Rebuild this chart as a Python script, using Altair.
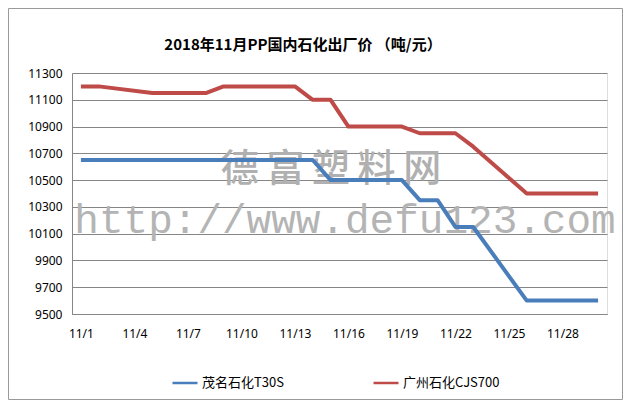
import altair as alt
import pandas as pd

# ---- data ----
all_days = [f"11/{d}" for d in range(1, 31)]
tick_labels = ["11/1", "11/4", "11/7", "11/10", "11/13", "11/16", "11/19", "11/22", "11/25", "11/28"]
trade_days = [1, 2, 5, 6, 7, 8, 9, 12, 13, 14, 15, 16, 19, 20, 21, 22, 23, 26, 27, 28, 29, 30]
maoming = [10650, 10650, 10650, 10650, 10650, 10650, 10650, 10650, 10650, 10650, 10500, 10500,
           10500, 10350, 10350, 10150, 10150, 9600, 9600, 9600, 9600, 9600]
guangzhou = [11200, 11200, 11150, 11150, 11150, 11150, 11200, 11200, 11200, 11100, 11100, 10900,
             10900, 10850, 10850, 10850, 10750, 10400, 10400, 10400, 10400, 10400]
series_names = ["茂名石化T30S", "广州石化CJS700"]
series_colors = ["#4A7EBB", "#BE4B48"]
y_ticks = list(range(9500, 11301, 200))
title_text = "2018年11月PP国内石化出厂价  （吨/元）"
watermark_cn = "\u2009".join("德富塑料网")
watermark_url = "http://www.defu123.com"

rows = []
for name, vals in zip(series_names, [maoming, guangzhou]):
    for d, v in zip(trade_days, vals):
        rows.append({"date": f"11/{d}", "day": d, "price": v, "series": name})
df = pd.DataFrame(rows)

W, H = 535, 241
font = "Noto Sans"
cjk = "Noto Sans CJK SC"

lines = alt.Chart(df).mark_line(strokeWidth=4, strokeJoin="round").encode(
    x=alt.X("date:O", scale=alt.Scale(domain=all_days, type="point", padding=0.5),
            axis=alt.Axis(values=tick_labels, title=None, labelAngle=0, ticks=False,
                          domain=True, domainColor="#868686", labelPadding=14,
                          labelFontSize=12, labelColor="#000000", labelFont=font, grid=False)),
    y=alt.Y("price:Q", scale=alt.Scale(domain=[9500, 11300], nice=False, zero=False),
            axis=alt.Axis(values=y_ticks, format="d", title=None, ticks=False, domain=True,
                          domainColor="#868686", gridColor="#868686", gridWidth=1,
                          labelPadding=10, labelFontSize=12, labelColor="#000000",
                          labelFont=font)),
    color=alt.Color("series:N", scale=alt.Scale(domain=series_names, range=series_colors),
                    legend=alt.Legend(title=None, orient="none", legendX=99, legendY=296,
                                      direction="horizontal", symbolType="stroke",
                                      symbolSize=625, symbolStrokeWidth=2.5,
                                      labelFontSize=13, labelFont=cjk, labelColor="#000000",
                                      columnPadding=84, labelOffset=3)),
    order=alt.Order("day:Q"),
)

wm1 = alt.Chart(pd.DataFrame({"t": [watermark_cn]})).mark_text(
    font=cjk, fontSize=38, fontWeight=500, color="#b0b0b0", align="center",
    baseline="middle"
).encode(text="t:N", x=alt.value(259), y=alt.value(97))

wm2 = alt.Chart(pd.DataFrame({"t": [watermark_url]})).mark_text(
    font="Liberation Mono", fontSize=41, color="#b4b4b4", align="center",
    baseline="alphabetic"
).encode(text="t:N", x=alt.value(273), y=alt.value(160))

title = alt.Chart(pd.DataFrame({"t": [title_text]})).mark_text(
    font=cjk, fontSize=15, fontWeight="bold", color="#000000", align="center",
    baseline="middle"
).encode(text="t:N", x=alt.value(231), y=alt.value(-28))

frame = alt.Chart(pd.DataFrame({"a": [0]})).mark_rect(
    fillOpacity=0, stroke="#9a9a9a", strokeWidth=1
).encode(x=alt.value(-63.5), x2=alt.value(550.5), y=alt.value(-64.5), y2=alt.value(326.5))

chart = alt.layer(frame, wm1, wm2, lines, title).properties(
    width=W, height=H,
    autosize=alt.AutoSizeParams(type="none"),
    padding={"left": 64, "top": 65, "right": 16, "bottom": 86},
).configure_view(stroke=None).configure(background="#ffffff")

chart.save("out.html", embed_options={"renderer": "svg", "actions": False})
